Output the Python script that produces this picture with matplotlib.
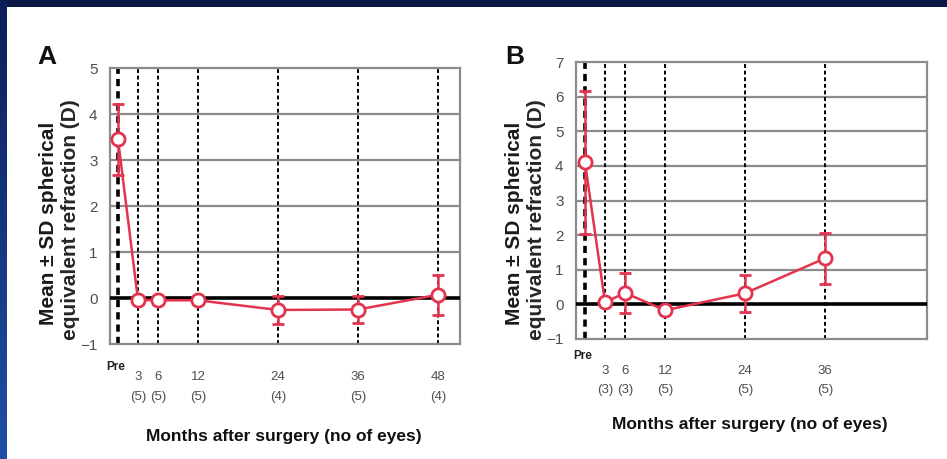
import numpy as np
import matplotlib
matplotlib.use("Agg")
import matplotlib.pyplot as plt
from matplotlib.patches import Rectangle
from matplotlib.colors import LinearSegmentedColormap
import matplotlib.transforms as mtransforms

# ---- data -------------------------------------------------------------
time_a = [0, 3, 6, 12, 24, 36, 48]
mean_a = [3.45, -0.04, -0.05, -0.05, -0.26, -0.25, 0.07]
sd_a = [0.77, 0.08, 0.08, 0.08, 0.30, 0.30, 0.43]
eyes_a = [None, 5, 5, 5, 4, 5, 4]

time_b = [0, 3, 6, 12, 24, 36]
mean_b = [4.10, 0.06, 0.33, -0.17, 0.32, 1.33]
sd_b = [2.07, 0.08, 0.57, 0.08, 0.53, 0.74]
eyes_b = [None, 3, 3, 5, 5, 5]

yticks_a = [-1, 0, 1, 2, 3, 4, 5]
yticks_b = [-1, 0, 1, 2, 3, 4, 5, 6, 7]

xlabel = "Months after surgery (no of eyes)"
ylabel_1 = "Mean \u00b1 SD spherical"
ylabel_2 = "equivalent refraction (D)"

# ---- style ------------------------------------------------------------
ARIAL = ["Liberation Sans", "DejaVu Sans"]
RED = "#e2344f"
GRID = "#8c8c8c"
TICK = "#4d4d55"
W, H = 947, 459

fig = plt.figure(figsize=(W / 100, H / 100), dpi=100)
fig.patch.set_facecolor("#0b1846")

# slide background: navy frame, blue gradient strip on the left, white card
bg = fig.add_axes([0, 0, 1, 1])
bg.set_zorder(-5)
bg.axis("off")
grad = np.linspace(0, 1, 200)[:, None]
cmap = LinearSegmentedColormap.from_list("strip", ["#0c1e58", "#1f4fa6"])
bg.imshow(grad, extent=[0, 7, H, 0], cmap=cmap, aspect="auto")
bg.add_patch(Rectangle((7, 7), W - 7, H - 7, facecolor="white", edgecolor="none"))
bg.set_xlim(0, W)
bg.set_ylim(H, 0)


def px_axes(left, top, right, bottom):
    return fig.add_axes([left / W, 1 - bottom / H, (right - left) / W, (bottom - top) / H])


def draw_panel(ax, t, m, s, n, yticks, xlim, letter, letter_xy, ylab_x, ylab_y, lbl_pad):
    ymin, ymax = yticks[0], yticks[-1]
    ax.set_xlim(*xlim)
    ax.set_ylim(ymin, ymax)
    ax.set_facecolor("white")
    for sp in ax.spines.values():
        sp.set_color(GRID)
        sp.set_linewidth(1.6)

    # horizontal gridlines and the zero line
    for yv in yticks:
        if yv == 0:
            ax.axhline(0, color="black", lw=2.6, zorder=3)
        elif ymin < yv < ymax:
            ax.axhline(yv, color=GRID, lw=1.6, zorder=1)

    # dashed vertical line at every follow-up visit
    for i, tv in enumerate(t):
        ax.axvline(tv, color="black", lw=2.6 if i == 0 else 1.4,
                   ls=(0, (2.0, 1.4)), zorder=2)

    ax.errorbar(t, m, yerr=s, color=RED, lw=1.8, elinewidth=1.8, capsize=4,
                capthick=1.8, marker="o", ms=9.5, mfc="white", mec=RED,
                mew=2.0, zorder=6)

    ax.set_yticks(yticks)
    ax.set_yticklabels([("\u22121" if v == -1 else str(v)) for v in yticks],
                       family=ARIAL, fontsize=11, color=TICK)
    ax.tick_params(axis="y", length=0, pad=9)
    ax.set_xticks([])

    trans = mtransforms.blended_transform_factory(ax.transData, ax.transAxes)
    for tv, ne in zip(t, n):
        if ne is None:
            ax.text(tv - 0.3, lbl_pad[0], "Pre", transform=trans, ha="center",
                    va="center", family=ARIAL, fontsize=8.5, fontweight="bold",
                    color="#222222")
        else:
            ax.text(tv, lbl_pad[1], str(tv), transform=trans, ha="center",
                    va="center", family=ARIAL, fontsize=9.5, color=TICK)
            ax.text(tv, lbl_pad[2], f"({ne})", transform=trans, ha="center",
                    va="center", family=ARIAL, fontsize=9.5, color=TICK)

    fig.text(letter_xy[0] / W, 1 - letter_xy[1] / H, letter, ha="center",
             va="center", family=ARIAL, fontsize=19, fontweight="bold",
             color="#111111")
    fig.text(ylab_x[0] / W, 1 - ylab_y / H, ylabel_1, rotation=90, ha="center",
             va="center", family=ARIAL, fontsize=15, fontweight="bold",
             color="#1a1a1a")
    fig.text(ylab_x[1] / W, 1 - (ylab_y - 3) / H, ylabel_2, rotation=90,
             ha="center", va="center", family=ARIAL, fontsize=15,
             fontweight="bold", color="#262626")


# panel A
ax_a = px_axes(110, 68, 460, 344)
h_a = 344 - 68
draw_panel(ax_a, time_a, mean_a, sd_a, eyes_a, yticks_a, (-1.2, 51.3), "A",
           (47, 57), (49, 71), 223,
           (-(367 - 344) / h_a, -(377 - 344) / h_a, -(397 - 344) / h_a))
fig.text(284 / W, 1 - 436 / H, xlabel, ha="center", va="center",
         family=ARIAL, fontsize=12.5, fontweight="bold", color="#111111")

# panel B
ax_b = px_axes(576, 62, 927, 339)
h_b = 339 - 62
draw_panel(ax_b, time_b, mean_b, sd_b, eyes_b, yticks_b, (-1.35, 51.3), "B",
           (515, 57), (514, 536), 223,
           (-(356 - 339) / h_b, -(371 - 339) / h_b, -(390 - 339) / h_b))
fig.text(750 / W, 1 - 424 / H, xlabel, ha="center", va="center",
         family=ARIAL, fontsize=12.5, fontweight="bold", color="#111111")

fig.savefig("out.png", dpi=100, facecolor=fig.get_facecolor())
